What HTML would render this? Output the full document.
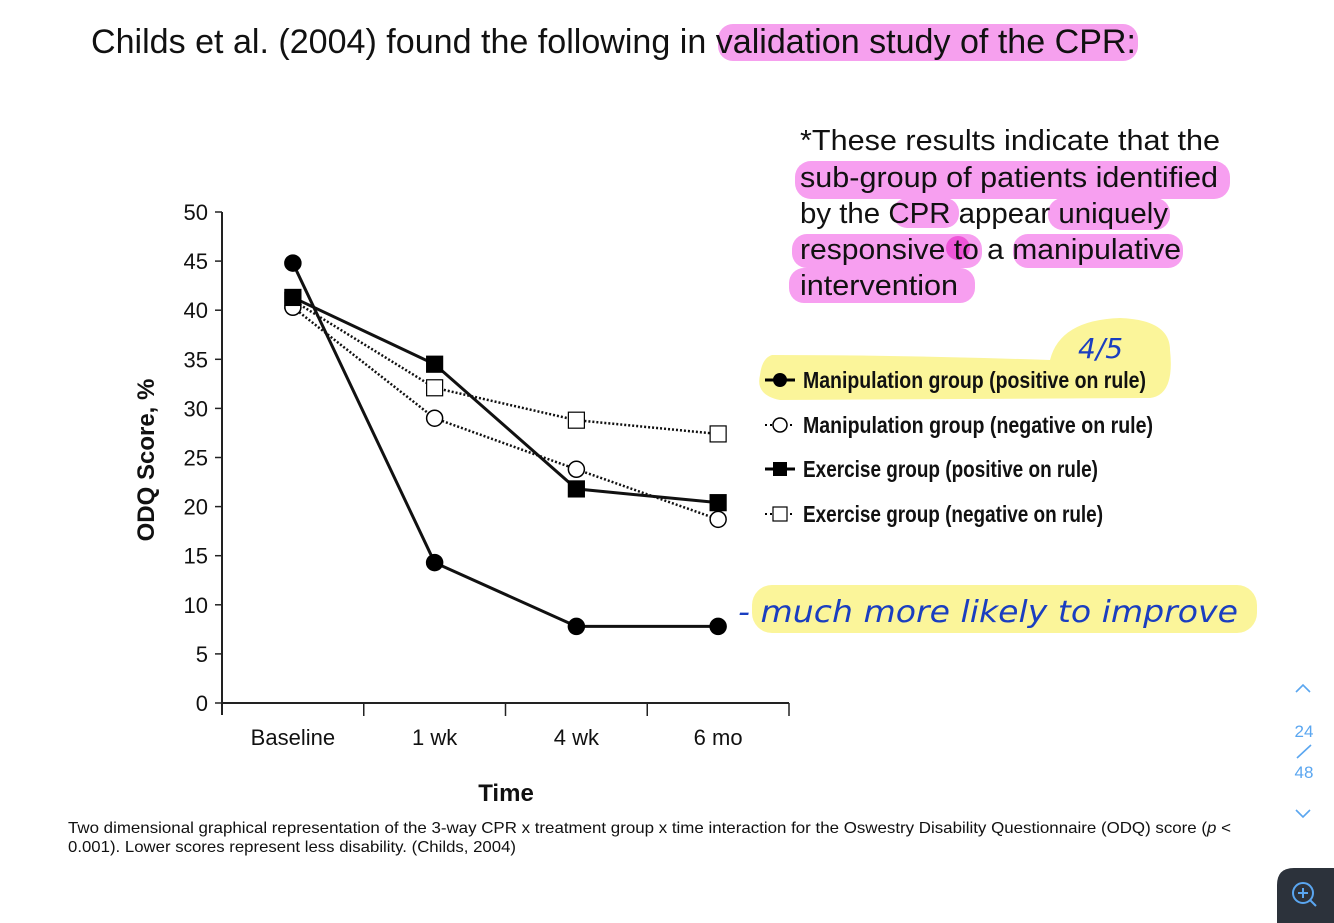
<!DOCTYPE html>
<html><head><meta charset="utf-8"><style>
html,body{margin:0;padding:0;width:1334px;height:923px;overflow:hidden;background:#fff;font-family:"Liberation Sans",sans-serif}
</style></head><body>
<svg width="1334" height="923" xmlns="http://www.w3.org/2000/svg" id="page">
  <rect x="718" y="24" width="420" height="37" rx="15" fill="#f6a0ee"/>
  <g fill="#f79ff0">
    <rect x="795" y="161" width="435" height="38" rx="16"/>
    <rect x="893" y="198" width="66" height="30" rx="14"/>
    <rect x="1048" y="198" width="122" height="32" rx="15"/>
    <rect x="792" y="234" width="190" height="34" rx="15"/>
    <rect x="1013" y="234" width="170" height="34" rx="15"/>
    <rect x="789" y="268" width="186" height="35" rx="15"/>
    <circle cx="958" cy="248" r="12" fill="#ee55d8"/>
  </g>
  <path d="M772 355 Q900 355 1050 360 Q1060 320 1120 318 Q1170 320 1170 350 Q1175 395 1150 398 L780 400 Q755 395 760 375 Q762 358 772 355Z" fill="#fbf59a"/>
  <rect x="752" y="585" width="505" height="48" rx="20" fill="#fbf59a"/>

  <text x="91" y="53" font-size="34" fill="#111" textLength="1045" lengthAdjust="spacingAndGlyphs">Childs et al. (2004) found the following in validation study of the CPR:</text>

  <g font-size="29" fill="#111">
    <text x="800" y="150" textLength="420" lengthAdjust="spacingAndGlyphs">*These results indicate that the</text>
    <text x="800" y="187" textLength="418" lengthAdjust="spacingAndGlyphs">sub-group of patients identified</text>
    <text x="800" y="223" textLength="368" lengthAdjust="spacingAndGlyphs">by the CPR appear uniquely</text>
    <text x="800" y="259" textLength="381" lengthAdjust="spacingAndGlyphs">responsive to a manipulative</text>
    <text x="800" y="295" textLength="158" lengthAdjust="spacingAndGlyphs">intervention</text>
  </g>

  <text x="1078" y="358" font-size="28" fill="#1a3ec0" font-style="italic" font-family="DejaVu Sans, sans-serif">4/5</text>
  <text x="738" y="622" font-size="30" fill="#1a3ec0" font-style="italic" font-family="DejaVu Sans, sans-serif" textLength="500" lengthAdjust="spacingAndGlyphs">- much more likely to improve</text>

  <g id="chart"></g>

  <g font-family="Liberation Sans Narrow, Liberation Sans, sans-serif" font-weight="bold" font-size="23" fill="#111">
    <g>
      <line x1="765" y1="380" x2="795" y2="380" stroke="#000" stroke-width="3"/><circle cx="780" cy="380" r="7" fill="#000"/>
      <text x="803" y="388" textLength="343" lengthAdjust="spacingAndGlyphs">Manipulation group (positive on rule)</text></g>
    <g>
      <line x1="765" y1="425" x2="795" y2="425" stroke="#000" stroke-width="2" stroke-dasharray="2,3"/><circle cx="780" cy="425" r="7" fill="#fff" stroke="#000" stroke-width="1.5"/>
      <text x="803" y="433" textLength="350" lengthAdjust="spacingAndGlyphs">Manipulation group (negative on rule)</text></g>
    <g>
      <line x1="765" y1="469" x2="795" y2="469" stroke="#000" stroke-width="3"/><rect x="773" y="462" width="14" height="14" fill="#000"/>
      <text x="803" y="477" textLength="295" lengthAdjust="spacingAndGlyphs">Exercise group (positive on rule)</text></g>
    <g>
      <line x1="765" y1="514" x2="795" y2="514" stroke="#000" stroke-width="2" stroke-dasharray="2,3"/><rect x="773" y="507" width="14" height="14" fill="#fff" stroke="#000" stroke-width="1.2"/>
      <text x="803" y="522" textLength="300" lengthAdjust="spacingAndGlyphs">Exercise group (negative on rule)</text></g>
  </g>

  <g font-size="16" fill="#111">
    <text x="68" y="833" textLength="1163" lengthAdjust="spacingAndGlyphs">Two dimensional graphical representation of the 3-way CPR x treatment group x time interaction for the Oswestry Disability Questionnaire (ODQ) score (<tspan font-style="italic">p</tspan> &lt;</text>
    <text x="68" y="852" textLength="448" lengthAdjust="spacingAndGlyphs">0.001). Lower scores represent less disability. (Childs, 2004)</text>
  </g>

  <g fill="none" stroke="#5aa6f0" stroke-width="1.6">
    <polyline points="1296,692 1303,685 1310,692"/>
    <text x="1304" y="737" font-size="17" fill="#5aa6f0" stroke="none" text-anchor="middle">24</text>
    <line x1="1297" y1="758" x2="1311" y2="745"/>
    <text x="1304" y="778" font-size="17" fill="#5aa6f0" stroke="none" text-anchor="middle">48</text>
    <polyline points="1296,810 1303,817 1310,810"/>
  </g>
  <g>
    <path d="M1277 923 L1277 885 Q1277 868 1294 868 L1334 868 L1334 923Z" fill="#2c323b"/>
    <circle cx="1303" cy="893" r="10" fill="none" stroke="#5aa6f0" stroke-width="2"/>
    <line x1="1310" y1="900" x2="1316" y2="906" stroke="#5aa6f0" stroke-width="2"/>
    <line x1="1298" y1="893" x2="1308" y2="893" stroke="#5aa6f0" stroke-width="2"/>
    <line x1="1303" y1="888" x2="1303" y2="898" stroke="#5aa6f0" stroke-width="2"/>
  </g>
</svg>
<script>
const categories = ["Baseline","1 wk","4 wk","6 mo"];
const yTicks = [0,5,10,15,20,25,30,35,40,45,50];
const manipPos = [44.8,14.3,7.8,7.8];
const manipNeg = [40.3,29.0,23.8,18.7];
const exercisePos = [41.3,34.5,21.8,20.4];
const exerciseNeg = [41.0,32.1,28.8,27.4];

const NS="http://www.w3.org/2000/svg";
const g=document.getElementById('chart');
const x0=222,x1=789,yBase=703,yTop=212,ymax=50;
const band=(x1-x0)/categories.length;
const xs=i=>x0+band*(i+0.5);
const ys=v=>yBase-(v/ymax)*(yBase-yTop);
function mk(t,a){const e=document.createElementNS(NS,t);for(const k in a)e.setAttribute(k,a[k]);g.appendChild(e);return e;}

const ya=mk('line',{x1:x0,y1:yTop,x2:x0,y2:yBase+12,stroke:'#222','stroke-width':2});


const xa=mk('line',{x1:x0,y1:yBase,x2:x1,y2:yBase,stroke:'#222','stroke-width':2});


yTicks.forEach(v=>{
  mk('line',{x1:x0-7,y1:ys(v),x2:x0,y2:ys(v),stroke:'#222','stroke-width':1.5});
  const t=mk('text',{x:x0-14,y:ys(v)+8,'font-size':22,'text-anchor':'end',fill:'#111','font-family':'Liberation Sans Narrow, Liberation Sans, sans-serif'});
  t.textContent=v;
  
  
});
categories.forEach((c,i)=>{
  const tx=x0+band*(i+1);
  mk('line',{x1:tx,y1:yBase,x2:tx,y2:yBase+13,stroke:'#222','stroke-width':1.5});
  const t=mk('text',{x:xs(i),y:745,'font-size':22,'text-anchor':'middle',fill:'#111','font-family':'Liberation Sans Narrow, Liberation Sans, sans-serif'});
  t.textContent=c;
  
  
});
const yl=mk('text',{x:0,y:0,'font-size':24,'font-weight':'bold','text-anchor':'middle',fill:'#111',transform:'translate(154,460) rotate(-90)'});
yl.textContent='ODQ Score, %';


const xl=mk('text',{x:506,y:801,'font-size':24,'font-weight':'bold','text-anchor':'middle',fill:'#111','font-family':'Liberation Sans Narrow, Liberation Sans, sans-serif'});
xl.textContent='Time';



function series(vals,name,dashed,marker,filled){
  const pts=vals.map((v,i)=>xs(i)+','+ys(v)).join(' ');
  const l=mk('polyline',{points:pts,fill:'none',stroke:'#111','stroke-width':dashed?2.5:3,'stroke-dasharray':dashed?'2,2':'none'});
  
  
  vals.forEach((v,i)=>{
    let m;
    if(marker==='c') m=mk('circle',{cx:xs(i),cy:ys(v),r:8,fill:filled?'#000':'#fff',stroke:'#000','stroke-width':1.5});
    else m=mk('rect',{x:xs(i)-8,y:ys(v)-8,width:16,height:16,fill:filled?'#000':'#fff',stroke:'#000','stroke-width':1.2});
    
    
  });
}
series(exerciseNeg,'exercise-negative',true,'s',false);
series(manipNeg,'manipulation-negative',true,'c',false);
series(exercisePos,'exercise-positive',false,'s',true);
series(manipPos,'manipulation-positive',false,'c',true);
</script>
</body></html>
